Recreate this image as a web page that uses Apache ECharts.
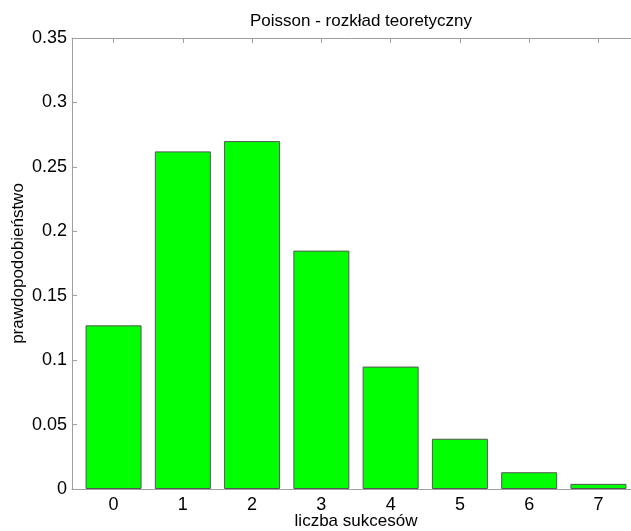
<!DOCTYPE html>
<html>
<head>
<meta charset="utf-8">
<script src="https://cdn.jsdelivr.net/npm/echarts@6/dist/echarts.min.js"></script>
<style>
  html, body { margin: 0; padding: 0; background: #fff; }
  #chart { width: 631px; height: 531px; }
</style>
</head>
<body>
<div id="chart"></div>
<script>
// liczba sukcesów (0..7) and Poisson probabilities
const successes = [0, 1, 2, 3, 4, 5, 6, 7]
const probabilities = [0.127, 0.262, 0.270, 0.185, 0.095, 0.039, 0.013, 0.004]

const axisColor = '#a0a0a0'
const font = 'Liberation Sans, Arial, sans-serif'

const chart = echarts.init(document.getElementById('chart'))

chart.setOption({
    animation: false,
    title: {
        text: 'Poisson - rozkład teoretyczny',
        left: 356,
        textAlign: 'center',
        top: 8,
        textStyle: { fontFamily: font, fontSize: 17, fontWeight: 'normal', color: '#000' }
    },
    grid: { left: 72, right: -9, top: 38, bottom: 42, outerBoundsMode: 'none', containLabel: false },
    xAxis: [
        {
            type: 'value',
            min: -0.6,
            max: 7.6,
            name: 'liczba sukcesów',
            nameLocation: 'middle',
            nameGap: 24,
            nameMoveOverlap: false,
            nameTextStyle: { fontFamily: font, fontSize: 17, color: '#000' },
            axisLine: { show: true, onZero: false, lineStyle: { color: axisColor } },
            axisTick: { show: true, inside: true, length: 5, customValues: successes, lineStyle: { color: axisColor } },
            axisLabel: {
                customValues: successes,
                fontFamily: font, fontSize: 18, color: '#000', margin: 7,
                formatter: v => String(Math.round(v))
            },
            splitLine: { show: false }
        },
        {
            type: 'value',
            position: 'top',
            min: -0.6,
            max: 7.6,
            axisLine: { show: true, onZero: false, lineStyle: { color: axisColor } },
            axisTick: { show: true, inside: true, length: 5, customValues: successes, lineStyle: { color: axisColor } },
            axisLabel: { show: false },
            splitLine: { show: false }
        }
    ],
    yAxis: {
        type: 'value',
        min: 0,
        max: 0.35,
        interval: 0.05,
        name: 'prawdopodobieństwo',
        nameLocation: 'middle',
        nameGap: 45,
        nameMoveOverlap: false,
        nameTextStyle: { fontFamily: font, fontSize: 17, color: '#000' },
        axisLine: { show: true, onZero: false, lineStyle: { color: axisColor } },
        axisTick: { show: true, inside: true, length: 5, lineStyle: { color: axisColor } },
        axisLabel: {
            fontFamily: font, fontSize: 18, color: '#000', margin: 5,
            formatter: v => String(+v.toFixed(2))
        },
        splitLine: { show: false }
    },
    series: [
        {
            type: 'bar',
            xAxisIndex: 0,
            barWidth: 56,
            data: successes.map((x, i) => [x, probabilities[i]]),
            itemStyle: { color: '#00ff00', borderColor: '#555', borderWidth: 1 }
        }
    ]
})
</script>
</body>
</html>
